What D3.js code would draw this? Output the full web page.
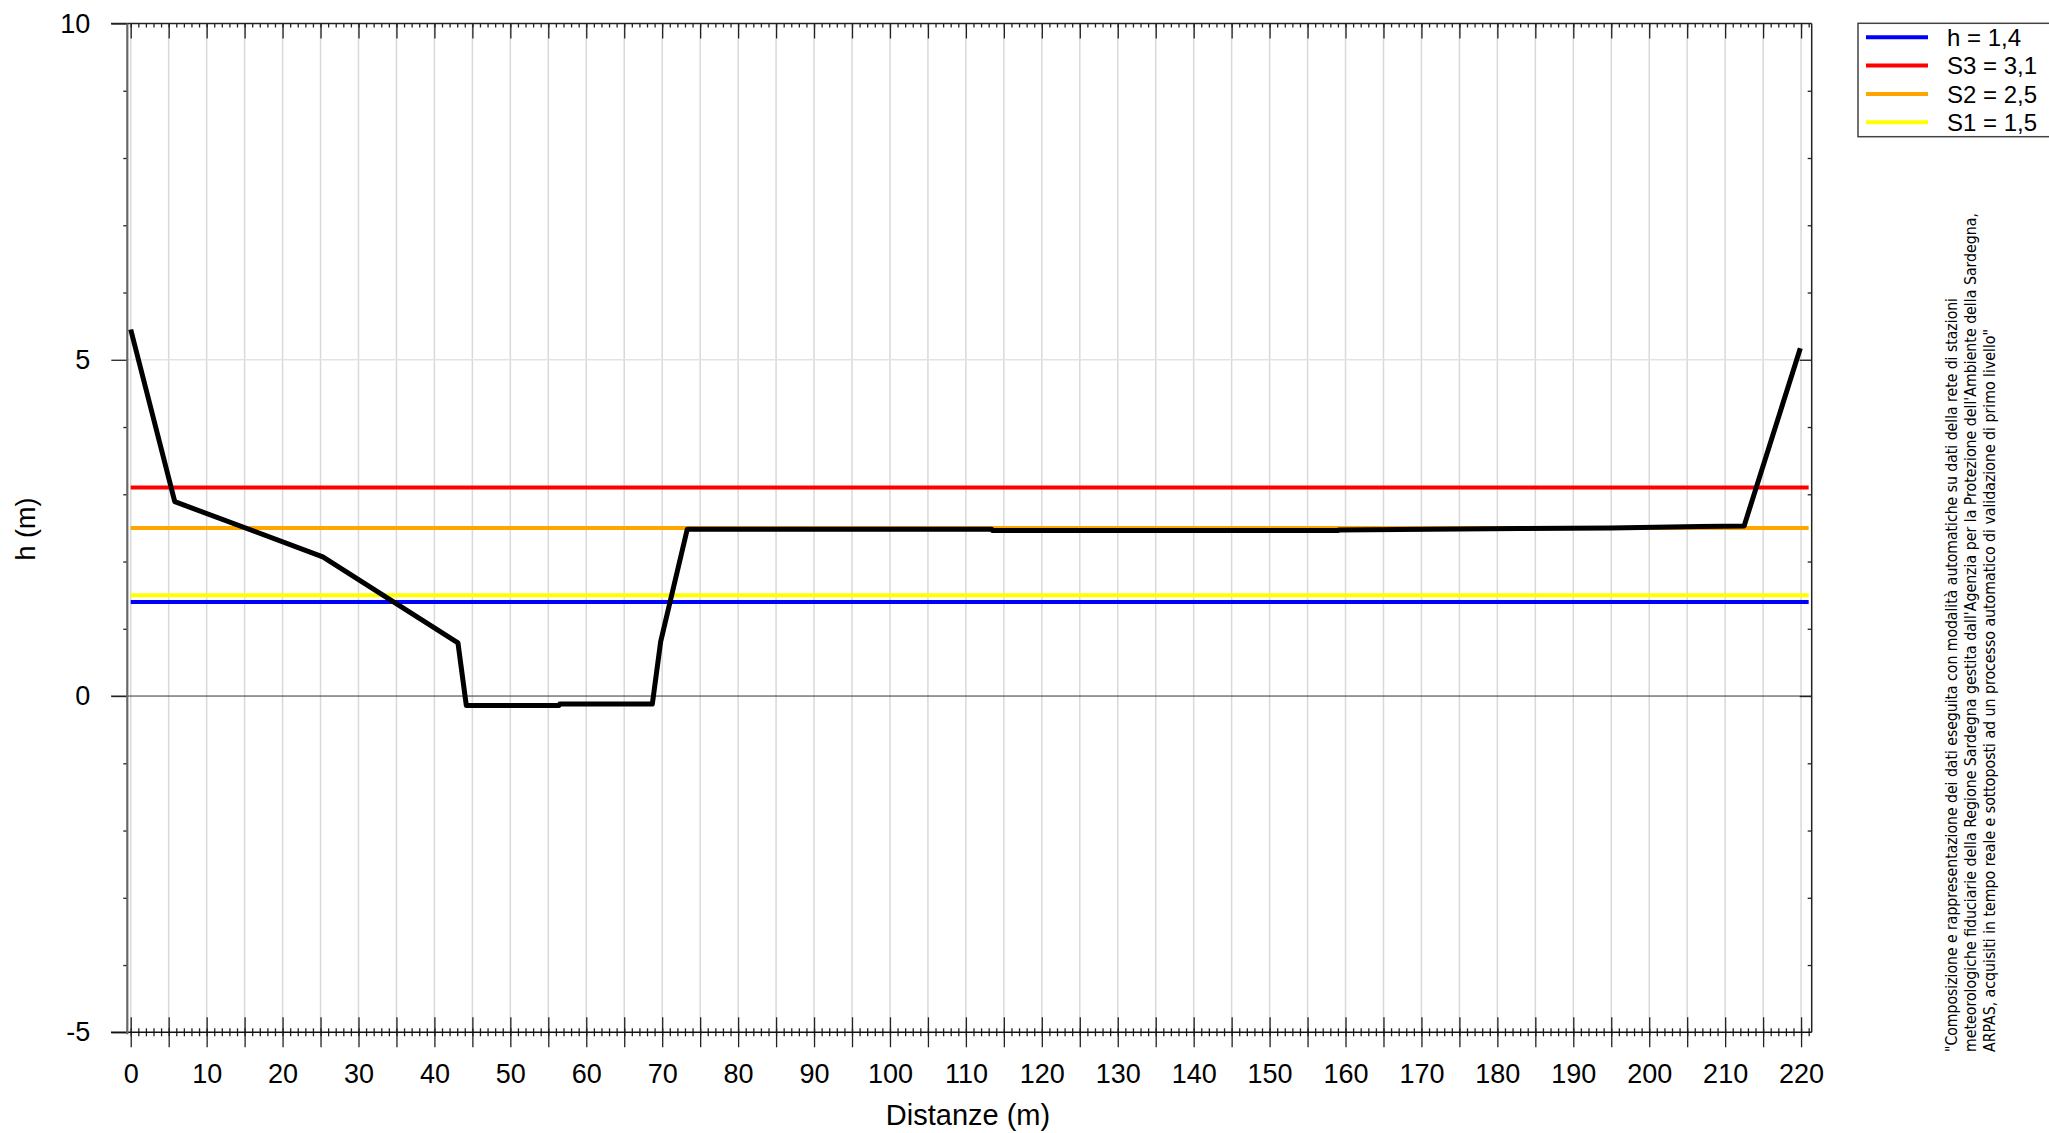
<!DOCTYPE html>
<html>
<head>
<meta charset="utf-8">
<script src="https://cdn.jsdelivr.net/npm/d3@7"></script>
<style>
  body { margin: 0; background: #fff; }
  text { font-family: "Liberation Sans", Arial, sans-serif; fill: #000; }
  .note { font-family: "Liberation Sans Narrow", "DejaVu Sans Condensed", "Liberation Sans", sans-serif; }
</style>
</head>
<body>
<script>
// cross-section profile: distance (m) and height (m)
var distances = [0, 5.8, 25.3, 43.1, 44.2, 56.4, 56.5, 68.7, 69.8, 73.3, 113.4, 113.5, 159, 159.1, 171, 183, 194.9, 206.6, 212.5, 219.9];
var heights   = [5.45, 2.89, 2.07, 0.79, -0.14, -0.14, -0.12, -0.12, 0.81, 2.48, 2.48, 2.46, 2.46, 2.47, 2.48, 2.49, 2.5, 2.52, 2.53, 5.17];

// threshold levels
var levelNames  = ["h", "S3", "S2", "S1"];
var levelValues = [1.4, 3.1, 2.5, 1.5];
var levelLabels = ["h = 1,4", "S3 = 3,1", "S2 = 2,5", "S1 = 1,5"];
var levelColors = ["#0000ff", "#ff0000", "#ffa500", "#ffff00"];
var levelRange  = [0, 221];

var xLabels = d3.range(0, 221, 10);
var yLabels = [-5, 0, 5, 10];

var noteLines = [
  "\"Composizione e rappresentazione dei dati eseguita con modalità automatiche su dati della rete di stazioni",
  "meteorologiche fiduciarie della Regione Sardegna gestita dall'Agenzia per la Protezione dell'Ambiente della Sardegna,",
  "ARPAS, acquisiti in tempo reale e sottoposti ad un processo automatico di validazione di primo livello\""
];
var noteLengths = [754, 839, 723];

var W = 2049, H = 1133;
var plot = {left: 127.3, right: 1811.7, top: 23.5, bottom: 1032.3};

var svg = d3.select("body").append("svg")
  .attr("width", W)
  .attr("height", H);

var x = d3.scaleLinear().domain([-0.45, 221.4]).range([plot.left, plot.right]);
var y = d3.scaleLinear().domain([-5, 10]).range([plot.bottom, plot.top]);

// grid
svg.append("g").selectAll("line")
  .data(d3.range(0, 221, 5))
  .enter().append("line")
  .attr("x1", function(d) { return x(d); })
  .attr("x2", function(d) { return x(d); })
  .attr("y1", plot.top)
  .attr("y2", plot.bottom)
  .attr("stroke", "#d9d9d9")
  .attr("stroke-width", 1.5);

svg.append("line")
  .attr("x1", plot.left).attr("x2", plot.right)
  .attr("y1", y(5)).attr("y2", y(5))
  .attr("stroke", "#e3e3e3")
  .attr("stroke-width", 1.5);

svg.append("line")
  .attr("x1", 111).attr("x2", plot.right)
  .attr("y1", y(0)).attr("y2", y(0))
  .attr("stroke", "#333")
  .attr("stroke-width", 1);

// axes
function cleanAxis(g) {
  g.select(".domain").remove();
  g.selectAll(".tick line").attr("stroke", "#222").attr("stroke-width", 1.3);
}

// bottom: major ticks every 5 across the line, minor every 1
var bMinor = svg.append("g")
  .attr("transform", "translate(0," + plot.bottom + ")")
  .call(d3.axisBottom(x).tickValues(d3.range(0, 222, 1)).tickSize(4).tickFormat(""));
cleanAxis(bMinor);
bMinor.selectAll(".tick line").attr("y1", -4);

var bMajor = svg.append("g")
  .attr("transform", "translate(0," + plot.bottom + ")")
  .call(d3.axisBottom(x).tickValues(d3.range(0, 221, 5)).tickSize(15)
    .tickFormat(function(d) { return xLabels.indexOf(d) >= 0 ? String(d) : ""; }));
cleanAxis(bMajor);
bMajor.selectAll(".tick line").attr("y1", -15);
bMajor.selectAll(".tick text")
  .attr("y", 32)
  .style("font-size", "27px");

// top
var tMinor = svg.append("g")
  .attr("transform", "translate(0," + plot.top + ")")
  .call(d3.axisTop(x).tickValues(d3.range(0, 222, 1)).tickSize(-4).tickFormat(""));
cleanAxis(tMinor);
var tMajor = svg.append("g")
  .attr("transform", "translate(0," + plot.top + ")")
  .call(d3.axisTop(x).tickValues(d3.range(0, 221, 5)).tickSize(-15).tickFormat(""));
cleanAxis(tMajor);

// left
var lMinor = svg.append("g")
  .attr("transform", "translate(" + plot.left + ",0)")
  .call(d3.axisLeft(y).tickValues(d3.range(-4, 10, 1).filter(function(d) { return d % 5 !== 0; }))
    .tickSize(4).tickFormat(""));
cleanAxis(lMinor);
var lMajor = svg.append("g")
  .attr("transform", "translate(" + plot.left + ",0)")
  .call(d3.axisLeft(y).tickValues(yLabels).tickSize(16)
    .tickFormat(function(d) { return String(d); }));
cleanAxis(lMajor);
lMajor.selectAll(".tick text")
  .attr("x", -37)
  .style("font-size", "27px");

// right
var rMinor = svg.append("g")
  .attr("transform", "translate(" + plot.right + ",0)")
  .call(d3.axisRight(y).tickValues(d3.range(-4, 10, 1).filter(function(d) { return d % 5 !== 0; }))
    .tickSize(-4).tickFormat(""));
cleanAxis(rMinor);
var rMajor = svg.append("g")
  .attr("transform", "translate(" + plot.right + ",0)")
  .call(d3.axisRight(y).tickValues([0, 5]).tickSize(-12).tickFormat(""));
cleanAxis(rMajor);

// frame lines
svg.append("line").attr("x1", 111).attr("x2", plot.right).attr("y1", plot.top).attr("y2", plot.top)
  .attr("stroke", "#222").attr("stroke-width", 1.5);
svg.append("line").attr("x1", 111).attr("x2", plot.right).attr("y1", plot.bottom).attr("y2", plot.bottom)
  .attr("stroke", "#111").attr("stroke-width", 1.5);
svg.append("line").attr("x1", plot.left).attr("x2", plot.left).attr("y1", plot.top).attr("y2", plot.bottom + 2)
  .attr("stroke", "#666").attr("stroke-width", 2.2);
svg.append("line").attr("x1", plot.right).attr("x2", plot.right).attr("y1", plot.top).attr("y2", plot.bottom)
  .attr("stroke", "#222").attr("stroke-width", 1.5);

// threshold lines
svg.append("g").selectAll("line")
  .data(levelValues)
  .enter().append("line")
  .attr("x1", x(levelRange[0]))
  .attr("x2", x(levelRange[1]))
  .attr("y1", function(d) { return y(d); })
  .attr("y2", function(d) { return y(d); })
  .attr("stroke", function(d, i) { return levelColors[i]; })
  .attr("stroke-width", 4);

// profile
var profile = distances.map(function(d, i) { return [d, heights[i]]; });
var line = d3.line()
  .x(function(d) { return x(d[0]); })
  .y(function(d) { return y(d[1]); });

svg.append("path")
  .datum(profile)
  .attr("d", line)
  .attr("fill", "none")
  .attr("stroke", "#000")
  .attr("stroke-width", 5)
  .attr("stroke-linejoin", "round");

// axis titles
svg.append("text")
  .attr("x", 968)
  .attr("y", 1125)
  .attr("text-anchor", "middle")
  .style("font-size", "29px")
  .text("Distanze (m)");

svg.append("text")
  .attr("transform", "translate(35,529) rotate(-90)")
  .attr("text-anchor", "middle")
  .style("font-size", "27px")
  .text("h (m)");

// legend
var legend = svg.append("g");
legend.append("rect")
  .attr("x", 1858)
  .attr("y", 23.3)
  .attr("width", 250)
  .attr("height", 113.4)
  .attr("fill", "#fff")
  .attr("stroke", "#444")
  .attr("stroke-width", 1.5);

var items = legend.selectAll(".legend")
  .data(levelNames)
  .enter().append("g")
  .attr("class", "legend")
  .attr("transform", function(d, i) { return "translate(0," + (37.3 + i * 28.3) + ")"; });

items.append("line")
  .attr("x1", 1866).attr("x2", 1928)
  .attr("stroke", function(d, i) { return levelColors[i]; })
  .attr("stroke-width", 4);

items.append("text")
  .attr("x", 1947)
  .attr("dy", "0.36em")
  .style("font-size", "24px")
  .text(function(d, i) { return levelLabels[i]; });

// attribution note
svg.append("g").selectAll("text")
  .data(noteLines)
  .enter().append("text")
  .attr("class", "note")
  .attr("transform", function(d, i) { return "translate(" + (1957 + i * 19) + ",1052) rotate(-90)"; })
  .attr("textLength", function(d, i) { return noteLengths[i]; })
  .attr("lengthAdjust", "spacingAndGlyphs")
  .style("font-size", "16px")
  .text(function(d) { return d; });
</script>
</body>
</html>
